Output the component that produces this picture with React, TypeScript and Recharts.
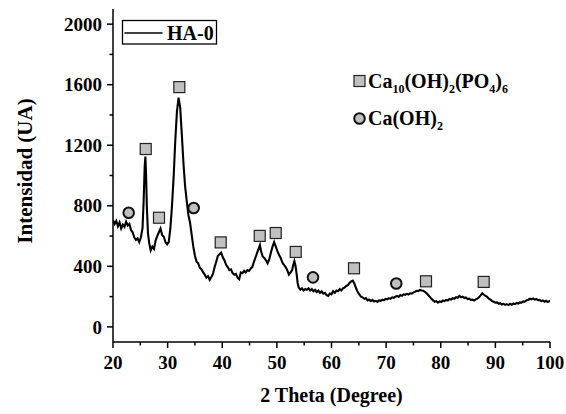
import React from 'react';
import { ComposedChart, Line, Scatter, XAxis, YAxis } from 'recharts';

// XRD pattern of sample HA-0
const twoTheta = [
  20.0, 20.3, 20.6, 20.9, 21.2, 21.5, 21.8, 22.1, 22.4, 22.7, 23.0, 23.3, 23.6, 23.9, 24.2, 24.5, 24.8, 25.1,
  25.4, 25.6, 25.8, 25.93, 26.05, 26.2, 26.4, 26.6, 26.9, 27.2, 27.5, 27.8, 28.1, 28.4, 28.7, 29.0, 29.3, 29.6,
  29.9, 30.2, 30.5, 30.8, 31.1, 31.4, 31.7, 32.0, 32.3, 32.6, 32.9, 33.2, 33.5, 33.8, 34.1, 34.4, 34.7, 35.0,
  35.3, 35.6, 35.9, 36.2, 36.5, 36.8, 37.1, 37.4, 37.7, 38.0, 38.3, 38.6, 38.9, 39.2, 39.5, 39.8, 40.1, 40.4,
  40.7, 41.0, 41.3, 41.6, 41.9, 42.2, 42.5, 42.8, 43.1, 43.4, 43.7, 44.0, 44.3, 44.6, 44.9, 45.2, 45.5, 45.8,
  46.1, 46.4, 46.7, 46.9, 47.1, 47.4, 47.7, 48.0, 48.3, 48.6, 48.9, 49.2, 49.5, 49.8, 50.1, 50.4, 50.7, 51.0,
  51.3, 51.6, 51.9, 52.2, 52.5, 52.8, 53.0, 53.2, 53.4, 53.6, 53.8, 54.0, 54.3, 54.6, 54.9, 55.2, 55.5, 55.8,
  56.1, 56.4, 56.7, 57.0, 57.3, 57.6, 57.9, 58.2, 58.5, 58.8, 59.1, 59.4, 59.7, 60.0, 60.3, 60.6, 60.9, 61.2,
  61.5, 61.8, 62.1, 62.4, 62.7, 63.0, 63.3, 63.6, 63.9, 64.2, 64.5, 64.8, 65.1, 65.4, 65.7, 66.0, 66.3, 66.6,
  66.9, 67.2, 67.5, 67.8, 68.1, 68.4, 68.7, 69.0, 69.3, 69.6, 69.9, 70.2, 70.5, 70.8, 71.1, 71.4, 71.7, 72.0,
  72.3, 72.6, 72.9, 73.2, 73.5, 73.8, 74.1, 74.4, 74.7, 75.0, 75.3, 75.6, 75.9, 76.2, 76.5, 76.8, 77.1, 77.4,
  77.7, 78.0, 78.3, 78.6, 78.9, 79.2, 79.5, 79.8, 80.1, 80.4, 80.7, 81.0, 81.3, 81.6, 81.9, 82.2, 82.5, 82.8,
  83.1, 83.4, 83.7, 84.0, 84.3, 84.6, 84.9, 85.2, 85.5, 85.8, 86.1, 86.4, 86.7, 87.0, 87.3, 87.6, 87.9, 88.2,
  88.5, 88.8, 89.1, 89.4, 89.7, 90.0, 90.3, 90.6, 90.9, 91.2, 91.5, 91.8, 92.1, 92.4, 92.7, 93.0, 93.3, 93.6,
  93.9, 94.2, 94.5, 94.8, 95.1, 95.4, 95.7, 96.0, 96.3, 96.6, 96.9, 97.2, 97.5, 97.8, 98.1, 98.4, 98.7, 99.0,
  99.3, 99.6, 99.9, 100.0,
];
const intensity = [
  705, 680, 700, 665, 690, 650, 675, 660, 695, 670, 680, 640, 625, 590, 575, 585, 560, 590,
  650, 820, 1060, 1125, 1010, 790, 620, 560, 505, 530, 515, 570, 600, 625, 650, 605, 595, 560,
  545, 560, 650, 800, 990, 1230, 1420, 1515, 1450, 1270, 1080, 930, 830, 740, 690, 610, 530, 470,
  430, 420, 390, 380, 360, 345, 325, 335, 310, 330, 350, 395, 430, 470, 480, 490, 460, 440,
  410, 395, 375, 380, 355, 345, 350, 325, 315, 360, 355, 370, 360, 375, 370, 385, 395, 430,
  460, 490, 520, 540, 500, 465, 455, 440, 420, 445, 490, 530, 560, 530, 500, 475, 455, 425,
  410, 395, 375, 345, 360, 375, 410, 435, 405, 355, 290, 260, 245, 255, 240, 250, 245, 255,
  240, 250, 235, 245, 230, 240, 225, 235, 220, 225, 210, 205, 220, 215, 235, 225, 240, 235,
  250, 240, 255, 260, 270, 275, 290, 300, 305, 285, 255, 230, 215, 200, 195, 185, 190, 175,
  180, 170, 178, 168, 172, 165, 175, 172, 180, 176, 185, 182, 190, 185, 195, 192, 200, 205,
  198, 210, 205, 215, 212, 218, 214, 222, 220, 228, 232, 238, 236, 244, 240, 238, 232, 222,
  210, 198, 185, 175, 166, 170, 160, 168, 164, 174, 170, 178, 174, 184, 180, 190, 186, 196,
  192, 204, 196, 200, 190, 194, 184, 186, 178, 180, 174, 182, 186, 196, 208, 222, 212, 204,
  198, 186, 180, 170, 166, 160, 162, 152, 156, 148, 152, 145, 150, 144, 152, 146, 154, 150,
  158, 154, 162, 160, 168, 166, 176, 178, 186, 182, 188, 180, 184, 176, 178, 170, 174, 166,
  172, 164, 170, 165,
];

// phase markers: Ca10(OH)2(PO4)6 (squares) and Ca(OH)2 (circles)
const hapTheta = [25.99, 32.14, 28.42, 39.72, 46.86, 49.79, 53.45, 64.12, 77.3, 87.86];
const hapIntensity = [1175, 1584, 721, 558, 601, 620, 495, 387, 301, 297];
const chTheta = [22.87, 34.77, 56.61, 71.86];
const chIntensity = [754, 785, 327, 286];

const xTicks = [20, 25, 30, 35, 40, 45, 50, 55, 60, 65, 70, 75, 80, 85, 90, 95, 100];
const yTicks = [0, 200, 400, 600, 800, 1000, 1200, 1400, 1600, 1800, 2000];
const topTicks = [28, 36, 44, 52, 60, 68, 76, 84, 92];
const rightTicks = [120, 340, 560, 780, 1000, 1220, 1440, 1660, 1880];

const FONT = "'Liberation Serif', 'DejaVu Serif', serif";

const lineData = twoTheta.map((x, i) => ({ x, y: intensity[i] }));
const hapData = hapTheta.map((x, i) => ({ x, y: hapIntensity[i] }));
const chData = chTheta.map((x, i) => ({ x, y: chIntensity[i] }));

const txt = { fontFamily: FONT, fontWeight: 'bold' as const, fill: '#000' };

const BottomTick = ({ x, y, payload }: any) => {
  const major = payload.value % 10 === 0;
  return (
    <g>
      <line x1={x} y1={y} x2={x} y2={y + (major ? 6 : 3.5)} stroke="#000" strokeWidth={1.5} />
      {major && (
        <text x={x} y={y + 27} textAnchor="middle" style={{ ...txt, fontSize: 19 }}>
          {payload.value}
        </text>
      )}
    </g>
  );
};

const LeftTick = ({ x, y, payload }: any) => {
  const major = payload.value % 400 === 0;
  return (
    <g>
      <line x1={x - (major ? 6 : 3.5)} y1={y} x2={x} y2={y} stroke="#000" strokeWidth={1.5} />
      {major && (
        <text x={x - 11} y={y} dy="0.35em" textAnchor="end" style={{ ...txt, fontSize: 19 }}>
          {payload.value}
        </text>
      )}
    </g>
  );
};

const TopTick = ({ x, y }: any) => <line x1={x} y1={y} x2={x} y2={y + 5} stroke="#000" strokeWidth={1.5} />;
const RightTick = ({ x, y }: any) => <line x1={x - 5} y1={y} x2={x} y2={y} stroke="#000" strokeWidth={1.5} />;

const SquareMark = ({ cx, cy }: any) => (
  <rect x={cx - 5.5} y={cy - 5.5} width={11} height={11} fill="#c0c0c0" stroke="#222" strokeWidth={1.2} />
);
const CircleMark = ({ cx, cy }: any) => <circle cx={cx} cy={cy} r={5.3} fill="#c0c0c0" stroke="#111" strokeWidth={2} />;

const axisLine = { stroke: '#000', strokeWidth: 1.5 };

export default function App() {
  return (
    <div style={{ position: 'absolute', left: 0, top: 0, width: 566, height: 414, background: '#fff' }}>
      <ComposedChart width={566} height={414} margin={{ top: 9, right: 16, bottom: 0, left: 0 }}>
        <XAxis
          xAxisId="main"
          dataKey="x"
          type="number"
          domain={[20, 100]}
          ticks={xTicks}
          interval={0}
          height={72}
          tickSize={0}
          tickMargin={0}
          tickLine={false}
          tick={BottomTick}
          axisLine={axisLine}
          allowDataOverflow
          label={{
            value: '2 Theta (Degree)',
            position: 'insideBottom',
            offset: 12,
            style: { ...txt, fontSize: 20 },
          }}
        />
        <XAxis
          xAxisId="top"
          orientation="top"
          type="number"
          domain={[20, 100]}
          ticks={topTicks}
          interval={0}
          height={0}
          tickSize={0}
          tickMargin={0}
          tickLine={false}
          tick={TopTick}
          axisLine={axisLine}
        />
        <YAxis
          yAxisId="main"
          dataKey="y"
          type="number"
          domain={[-100, 2100]}
          ticks={yTicks}
          interval={0}
          width={113}
          tickSize={0}
          tickMargin={0}
          tickLine={false}
          tick={LeftTick}
          axisLine={axisLine}
          allowDataOverflow
          label={{
            content: () => (
              <text
                x={25}
                y={171}
                transform="rotate(-90 25 171)"
                textAnchor="middle"
                dominantBaseline="central"
                style={{ ...txt, fontSize: 21 }}
              >
                Intensidad (UA)
              </text>
            ),
          }}
        />
        <YAxis
          yAxisId="right"
          orientation="right"
          type="number"
          domain={[-100, 2100]}
          ticks={rightTicks}
          interval={0}
          width={0}
          tickSize={0}
          tickMargin={0}
          tickLine={false}
          tick={RightTick}
          axisLine={axisLine}
        />
        <Line
          xAxisId="main"
          yAxisId="main"
          data={lineData}
          dataKey="y"
          type="linear"
          stroke="#000"
          strokeWidth={2.1}
          dot={false}
          isAnimationActive={false}
        />
        <Scatter xAxisId="main" yAxisId="main" data={hapData} dataKey="y" shape={SquareMark} isAnimationActive={false} />
        <Scatter xAxisId="main" yAxisId="main" data={chData} dataKey="y" shape={CircleMark} isAnimationActive={false} />
      </ComposedChart>

      {/* legends */}
      <svg width={566} height={414} style={{ position: 'absolute', left: 0, top: 0, pointerEvents: 'none' }}>
        <rect x={122.5} y={20.5} width={94} height={23.5} fill="#fff" stroke="#000" strokeWidth={1.3} />
        <line x1={124.5} y1={33} x2={162.5} y2={33} stroke="#000" strokeWidth={1.3} />
        <text x={167} y={40} style={{ ...txt, fontSize: 20 }}>
          HA-0
        </text>

        <rect x={354} y={75.5} width={11} height={11} fill="#c0c0c0" stroke="#222" strokeWidth={1.2} />
        <text x={368} y={88} style={{ ...txt, fontSize: 20 }}>
          Ca<tspan fontSize={12} dy={5}>10</tspan>
          <tspan dy={-5}>(OH)</tspan>
          <tspan fontSize={12} dy={5}>2</tspan>
          <tspan dy={-5}>(PO</tspan>
          <tspan fontSize={12} dy={5}>4</tspan>
          <tspan dy={-5}>)</tspan>
          <tspan fontSize={12} dy={5}>6</tspan>
        </text>

        <circle cx={359.5} cy={118.5} r={5.3} fill="#c0c0c0" stroke="#111" strokeWidth={2} />
        <text x={368} y={125} style={{ ...txt, fontSize: 20 }}>
          Ca(OH)<tspan fontSize={12} dy={5}>2</tspan>
        </text>
      </svg>
    </div>
  );
}
